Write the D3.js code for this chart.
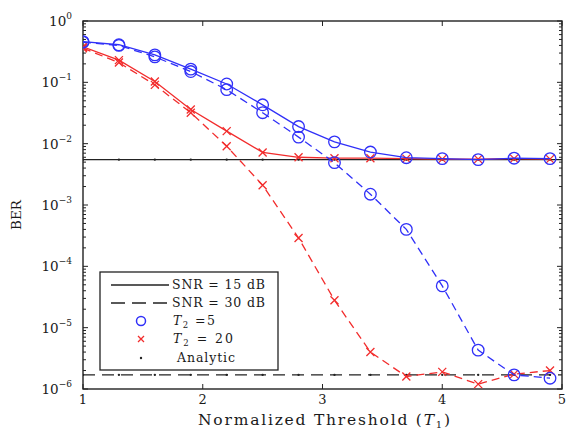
<!DOCTYPE html>
<html>
<head>
<meta charset="utf-8">
<script src="https://cdn.jsdelivr.net/npm/d3@7"></script>
<style>
  html, body { margin: 0; padding: 0; background: #fff; }
  svg text { font-family: "DejaVu Serif", "Liberation Serif", serif; fill: #1a1a1a; }
</style>
</head>
<body>
<svg id="chart" width="566" height="432"></svg>
<script>
// Normalized threshold T1 sample points
const thresholds = [1, 1.3, 1.6, 1.9, 2.2, 2.5, 2.8, 3.1, 3.4, 3.7, 4.0, 4.3, 4.6, 4.9];

// Simulated BER, T2 = 5
const berT5snr15 = [0.46, 0.41, 0.28, 0.164, 0.094, 0.043, 0.019, 0.0107, 0.0073, 0.0059, 0.0057, 0.0055, 0.0058, 0.0057];
const berT5snr30 = [0.45, 0.40, 0.26, 0.15, 0.076, 0.032, 0.0128, 0.0049, 0.0015, 4.0e-4, 4.8e-5, 4.3e-6, 1.7e-6, 1.5e-6];

// Simulated BER, T2 = 20
const berT20snr15 = [0.38, 0.23, 0.103, 0.036, 0.016, 0.0072, 0.0060, 0.0058, 0.0058, 0.0057, 0.0056, 0.0056, 0.0057, 0.0056];
const berT20snr30 = [0.36, 0.21, 0.091, 0.032, 0.0091, 0.0021, 2.9e-4, 2.8e-5, 4.0e-6, 1.6e-6, 1.9e-6, 1.2e-6, 1.75e-6, 2.0e-6];

// Analytic error floors
const analyticSnr15 = 5.5e-3;
const analyticSnr30 = 1.7e-6;

const xTicks = [1, 2, 3, 4, 5];
const yExponents = [0, -1, -2, -3, -4, -5, -6];

const svg = d3.select("#chart");
const pLeft = 83, pRight = 562, pTop = 21, pBottom = 389;

const x = d3.scaleLinear().domain([1, 5]).range([pLeft, pRight]);
const y = d3.scaleLog().domain([1e-6, 1]).range([pBottom, pTop]);

const BLUE = "#3030f8", RED = "#f22c2c";

// Plot frame
svg.append("rect")
  .attr("x", pLeft).attr("y", pTop)
  .attr("width", pRight - pLeft).attr("height", pBottom - pTop)
  .attr("fill", "none").attr("stroke", "#222").attr("stroke-width", 1.4);

// Ticks drawn inward on all four sides
const minorVals = [];
for (let e = -6; e < 0; e++) for (let m = 2; m <= 9; m++) minorVals.push(m * Math.pow(10, e));
const tickG = svg.append("g").attr("stroke", "#222").attr("stroke-width", 1);
yExponents.forEach(e => {
  const yy = y(Math.pow(10, e));
  tickG.append("line").attr("x1", pLeft).attr("x2", pLeft + 5).attr("y1", yy).attr("y2", yy);
  tickG.append("line").attr("x1", pRight).attr("x2", pRight - 5).attr("y1", yy).attr("y2", yy);
});
minorVals.forEach(v => {
  const yy = y(v);
  tickG.append("line").attr("x1", pLeft).attr("x2", pLeft + 3).attr("y1", yy).attr("y2", yy);
  tickG.append("line").attr("x1", pRight).attr("x2", pRight - 3).attr("y1", yy).attr("y2", yy);
});
xTicks.forEach(t => {
  const xx = x(t);
  tickG.append("line").attr("x1", xx).attr("x2", xx).attr("y1", pBottom).attr("y2", pBottom - 5);
  tickG.append("line").attr("x1", xx).attr("x2", xx).attr("y1", pTop).attr("y2", pTop + 5);
});

// Y tick labels: 10 with superscript exponent
yExponents.forEach(e => {
  const t = svg.append("text")
    .attr("x", 72).attr("y", y(Math.pow(10, e)) + 5)
    .attr("text-anchor", "end").attr("font-size", 13.5);
  t.append("tspan").text("10");
  t.append("tspan").attr("dy", -7).attr("font-size", 9).text(e === 0 ? "0" : "\u2212" + (-e));
});

// X tick labels
xTicks.forEach(t => {
  svg.append("text").attr("x", x(t)).attr("y", 404)
    .attr("text-anchor", "middle").attr("font-size", 13).text(t);
});

// Axis titles
const xl = svg.append("text").attr("x", 198).attr("y", 425)
  .attr("font-size", 15.5)
  .attr("textLength", 252).attr("lengthAdjust", "spacing");
xl.append("tspan").text("Normalized Threshold (");
xl.append("tspan").attr("font-style", "italic").text("T");
xl.append("tspan").attr("font-size", 10).attr("dy", 3).text("1");
xl.append("tspan").attr("dy", -3).text(")");

svg.append("text")
  .attr("transform", "translate(21,215) rotate(-90)")
  .attr("text-anchor", "middle").attr("font-size", 13.5).text("BER");

// Clip curves to the plot area
svg.append("clipPath").attr("id", "plot-clip")
  .append("rect").attr("x", pLeft).attr("y", pTop - 8)
  .attr("width", pRight - pLeft).attr("height", pBottom - pTop + 8);
const plot = svg.append("g").attr("clip-path", "url(#plot-clip)");

// Analytic floor lines with dots at each threshold
plot.append("line")
  .attr("x1", pLeft).attr("x2", pRight)
  .attr("y1", y(analyticSnr15)).attr("y2", y(analyticSnr15))
  .attr("stroke", "#222").attr("stroke-width", 1.3);
plot.append("line")
  .attr("x1", pLeft).attr("x2", pRight)
  .attr("y1", y(analyticSnr30)).attr("y2", y(analyticSnr30))
  .attr("stroke", "#222").attr("stroke-width", 1.3).attr("stroke-dasharray", "12,7");
[analyticSnr15, analyticSnr30].forEach(v => {
  plot.append("g").selectAll("circle").data(thresholds).join("circle")
    .attr("cx", d => x(d)).attr("cy", y(v)).attr("r", 1.2).attr("fill", "#222");
});

const line = d3.line().x((d, i) => x(thresholds[i])).y(d => y(d));

function drawSeries(values, color, dashed, marker) {
  plot.append("path").datum(values)
    .attr("d", line).attr("fill", "none")
    .attr("stroke", color).attr("stroke-width", 1.3)
    .attr("stroke-dasharray", dashed ? "8,5" : null);
  const g = plot.append("g");
  values.forEach((v, i) => {
    const cx = x(thresholds[i]), cy = y(v);
    if (marker === "o") {
      g.append("circle").attr("cx", cx).attr("cy", cy).attr("r", 5.8)
        .attr("fill", "none").attr("stroke", color).attr("stroke-width", 1.3);
    } else {
      g.append("path").attr("d", `M${cx - 4},${cy - 4}L${cx + 4},${cy + 4}M${cx - 4},${cy + 4}L${cx + 4},${cy - 4}`)
        .attr("stroke", color).attr("stroke-width", 1.3);
    }
  });
}

drawSeries(berT20snr30, RED, true, "x");
drawSeries(berT20snr15, RED, false, "x");
drawSeries(berT5snr30, BLUE, true, "o");
drawSeries(berT5snr15, BLUE, false, "o");

// Legend
const lg = svg.append("g");
lg.append("rect").attr("x", 100).attr("y", 272).attr("width", 178).attr("height", 98)
  .attr("fill", "#fff").attr("stroke", "#222").attr("stroke-width", 1.3);
const rows = [285, 303, 321, 339, 358];
lg.append("line").attr("x1", 111).attr("x2", 169).attr("y1", rows[0]).attr("y2", rows[0])
  .attr("stroke", "#222").attr("stroke-width", 1.3);
lg.append("line").attr("x1", 111).attr("x2", 169).attr("y1", rows[1]).attr("y2", rows[1])
  .attr("stroke", "#222").attr("stroke-width", 1.3).attr("stroke-dasharray", "14,7");
lg.append("circle").attr("cx", 141).attr("cy", rows[2]).attr("r", 4.5)
  .attr("fill", "none").attr("stroke", BLUE).attr("stroke-width", 1.5);
lg.append("path").attr("d", `M138,${rows[3] - 3}L144,${rows[3] + 3}M138,${rows[3] + 3}L144,${rows[3] - 3}`)
  .attr("stroke", RED).attr("stroke-width", 1.3);
lg.append("circle").attr("cx", 141).attr("cy", rows[4]).attr("r", 1.2).attr("fill", "#222");

const lgText = (row, xPos, width, parts) => {
  const t = lg.append("text").attr("x", xPos).attr("y", row + 4).attr("font-size", 12.5)
    .attr("textLength", width).attr("lengthAdjust", "spacing");
  parts(t);
};
lgText(rows[0], 172, 93, t => t.text("SNR = 15 dB"));
lgText(rows[1], 172, 93, t => t.text("SNR = 30 dB"));
lgText(rows[2], 173, 42, t => {
  t.append("tspan").attr("font-style", "italic").text("T");
  t.append("tspan").attr("font-size", 8.5).attr("dy", 3).text("2");
  t.append("tspan").attr("dy", -3).text(" =5");
});
lgText(rows[3], 173, 60, t => {
  t.append("tspan").attr("font-style", "italic").text("T");
  t.append("tspan").attr("font-size", 8.5).attr("dy", 3).text("2");
  t.append("tspan").attr("dy", -3).text(" = 20");
});
lgText(rows[4], 177, 58, t => t.text("Analytic"));
</script>
</body>
</html>
